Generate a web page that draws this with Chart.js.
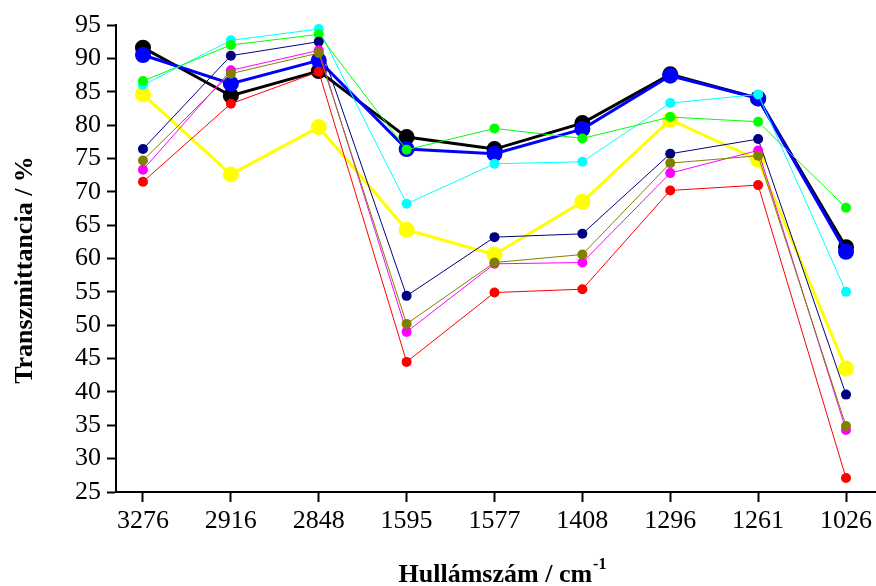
<!DOCTYPE html>
<html><head><meta charset="utf-8">
<script src="https://cdn.jsdelivr.net/npm/chart.js@4"></script>
<style>html,body{margin:0;padding:0;background:#fff}#wrap{width:876px;height:586px}</style>
</head><body><div id="wrap"><canvas id="c" width="876" height="586"></canvas></div>
<script>
const categories = ['3276','2916','2848','1595','1577','1408','1296','1261','1026'];
const yTickValues = [25,30,35,40,45,50,55,60,65,70,75,80,85,90,95];
const xTitle = 'Hullámszám / cm';
const xTitleSup = '-1';
const yTitle = 'Transzmittancia / %';

const black   = [91.6, 84.4, 88.1, 78.2, 76.4, 80.3, 87.6, 84.0, 61.7];
const blue    = [90.5, 86.2, 89.7, 76.4, 75.7, 79.4, 87.4, 84.0, 61.0];
const yellow  = [84.6, 72.6, 79.7, 64.3, 60.6, 68.5, 80.8, 74.8, 43.5];
const green   = [86.6, 92.0, 93.6, 76.3, 79.5, 78.0, 81.2, 80.5, 67.6];
const cyan    = [86.0, 92.7, 94.4, 68.2, 74.2, 74.5, 83.3, 84.6, 55.0];
const navy    = [76.4, 90.4, 92.5, 54.4, 63.2, 63.7, 75.7, 77.9, 39.6];
const magenta = [73.3, 88.2, 91.2, 49.0, 59.2, 59.4, 72.8, 76.2, 34.3];
const olive   = [74.7, 87.7, 90.8, 50.2, 59.4, 60.6, 74.3, 75.4, 34.9];
const red     = [71.5, 83.2, 88.0, 44.5, 54.9, 55.4, 70.2, 71.0, 27.1];

function pts(arr){ return arr.map((v,i)=>({x:i, y:v})); }
function ds(arr, color, big){
  return {
    data: pts(arr),
    borderColor: color,
    backgroundColor: color,
    pointBackgroundColor: color,
    pointBorderColor: color,
    borderWidth: big ? 3 : 1,
    pointRadius: big ? 8 : 5,
    pointBorderWidth: 0,
    tension: 0,
    fill: false,
    clip: false
  };
}

const FONT = 'Liberation Serif, Times New Roman, serif';
const zeroPad = () => ({left:0, top:0, right:0, bottom:0});

const titlePlugin = {
  id: 'titles',
  afterDraw(chart){
    const ctx = chart.ctx;
    ctx.save();
    ctx.fillStyle = '#000';
    ctx.font = 'bold 26px ' + FONT;
    ctx.textBaseline = 'alphabetic';
    ctx.textAlign = 'left';
    const w = ctx.measureText(xTitle).width;
    ctx.font = 'bold 16px ' + FONT;
    const ws = ctx.measureText(xTitleSup).width;
    const cx = 502;
    const x0 = cx - (w + ws) / 2;
    ctx.font = 'bold 26px ' + FONT;
    ctx.fillText(xTitle, x0, 582);
    ctx.font = 'bold 16px ' + FONT;
    ctx.fillText(xTitleSup, x0 + w + 1, 569);
    ctx.translate(25, 270);
    ctx.rotate(-Math.PI/2);
    ctx.font = 'bold 26px ' + FONT;
    ctx.textAlign = 'center';
    ctx.textBaseline = 'middle';
    ctx.fillText(yTitle, 0, 0);
    ctx.restore();
  }
};

new Chart(document.getElementById('c'), {
  type: 'line',
  data: {
    datasets: [
      ds(red, '#ff0000', false),
      ds(olive, '#808000', false),
      ds(magenta, '#ff00ff', false),
      ds(navy, '#000080', false),
      ds(green, '#00ff00', false),
      ds(cyan, '#00ffff', false),
      ds(yellow, '#ffff00', true),
      ds(blue, '#0000ff', true),
      ds(black, '#000000', true)
    ]
  },
  options: {
    responsive: false,
    animation: false,
    devicePixelRatio: 1,
    layout: { autoPadding: false, padding: { top: 25, right: 1, left: 0, bottom: 0 } },
    plugins: { legend: { display: false }, tooltip: { enabled: false } },
    scales: {
      x: {
        type: 'linear',
        min: -0.307,
        max: 8.33,
        afterBuildTicks(s){ s.ticks = categories.map((c,i)=>({value:i})); },
        afterFit(s){ s.height = 94; s.paddingLeft = 0; s.paddingRight = 0; s.getPadding = zeroPad; },
        ticks: {
          callback: (v) => categories[v],
          font: { family: FONT, size: 26 },
          color: '#000',
          padding: 4,
          maxRotation: 0,
          autoSkip: false
        },
        grid: { drawOnChartArea: false, tickLength: 10, tickWidth: 2, color: '#000' },
        border: { color: '#000', width: 2 }
      },
      y: {
        min: 25,
        max: 95,
        afterBuildTicks(s){ s.ticks = yTickValues.map(v=>({value:v})); },
        afterFit(s){ s.width = 116; },
        ticks: {
          font: { family: FONT, size: 26 },
          color: '#000',
          padding: 6,
          autoSkip: false
        },
        grid: { drawOnChartArea: false, tickLength: 9, tickWidth: 2, color: '#000' },
        border: { color: '#000', width: 2 }
      }
    }
  },
  plugins: [titlePlugin]
});
</script>
</body></html>
